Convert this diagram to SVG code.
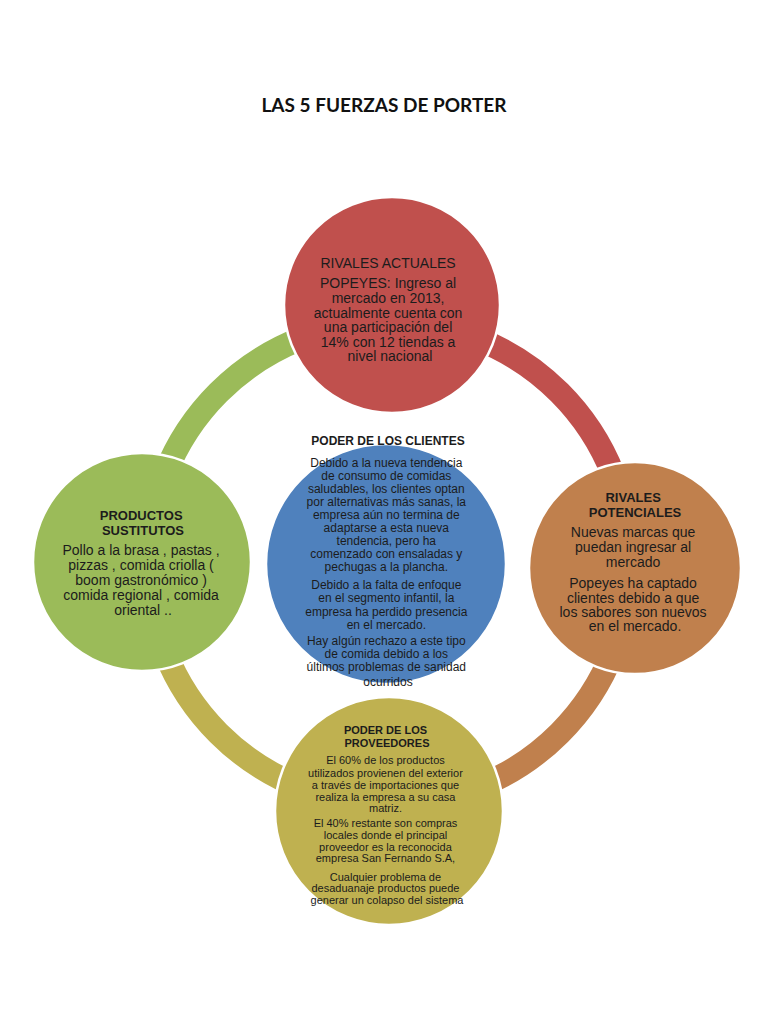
<svg xmlns="http://www.w3.org/2000/svg" width="768" height="1024" viewBox="0 0 768 1024">
<style>
.t{font-family:"Liberation Sans",Arial,sans-serif;fill:#1c1c1c;text-anchor:middle}
.title{font-family:Lato,"Liberation Sans",sans-serif;font-size:19px;font-weight:bold;fill:#111;text-anchor:middle}
.node{stroke:#fff;stroke-width:2.5}
.ring{fill:none;stroke-width:24}
</style>
<rect width="768" height="1024" fill="#fff"/>
<text class="title" x="384" y="112">LAS 5 FUERZAS DE PORTER</text>
<g id="connectors">
<path class="ring" stroke="#9BBB59" d="M148,563 A241,241 0 0 1 389,322"/>
<path class="ring" stroke="#C0504D" d="M389,322 A241,241 0 0 1 630,563"/>
<path class="ring" stroke="#C0804D" d="M630,563 A241,241 0 0 1 389,804"/>
<path class="ring" stroke="#BFB150" d="M389,804 A241,241 0 0 1 148,563"/>
</g>
<g id="clientes">
<circle class="node" cx="386" cy="564" r="120" fill="#4F81BD" stroke="none"/>
<text class="t" font-size="12" font-weight="bold" x="388" y="445">PODER DE LOS CLIENTES</text>
<text class="t" font-size="12">
<tspan x="388" y="467">Debido a la nueva tendencia</tspan>
<tspan x="388" y="480">de consumo de comidas</tspan>
<tspan x="388" y="493">saludables, los clientes optan</tspan>
<tspan x="388" y="506">por alternativas más sanas, la</tspan>
<tspan x="388" y="519">empresa aún no termina de</tspan>
<tspan x="388" y="532">adaptarse a esta nueva</tspan>
<tspan x="388" y="545">tendencia, pero ha</tspan>
<tspan x="388" y="558">comenzado con ensaladas y</tspan>
<tspan x="388" y="571">pechugas a la plancha.</tspan>
<tspan x="388" y="589">Debido a la falta de enfoque</tspan>
<tspan x="388" y="602">en el segmento infantil, la</tspan>
<tspan x="388" y="616">empresa ha perdido presencia</tspan>
<tspan x="388" y="629">en el mercado.</tspan>
<tspan x="388" y="645">Hay algún rechazo a este tipo</tspan>
<tspan x="388" y="658">de comida debido a los</tspan>
<tspan x="388" y="671">últimos problemas de sanidad</tspan>
<tspan x="388" y="686">ocurridos</tspan>
</text>
</g>
<g id="rivales-actuales">
<circle class="node" cx="392" cy="305" r="108" fill="#C0504D"/>
<text class="t" font-size="14">
<tspan x="390" y="268">RIVALES ACTUALES</tspan>
<tspan x="390" y="288">POPEYES: Ingreso al</tspan>
<tspan x="390" y="303">mercado en 2013,</tspan>
<tspan x="390" y="318">actualmente cuenta con</tspan>
<tspan x="390" y="332">una participación del</tspan>
<tspan x="390" y="347">14% con 12 tiendas a</tspan>
<tspan x="390" y="361">nivel nacional</tspan>
</text>
</g>
<g id="rivales-potenciales">
<circle class="node" cx="635" cy="568" r="106" fill="#C0804D"/>
<text class="t" font-size="13" font-weight="bold">
<tspan x="635" y="502">RIVALES</tspan>
<tspan x="635" y="517">POTENCIALES</tspan>
</text>
<text class="t" font-size="14">
<tspan x="635" y="537">Nuevas marcas que</tspan>
<tspan x="635" y="552">puedan ingresar al</tspan>
<tspan x="635" y="567">mercado</tspan>
<tspan x="635" y="588">Popeyes ha captado</tspan>
<tspan x="635" y="603">clientes debido a que</tspan>
<tspan x="635" y="617">los sabores son nuevos</tspan>
<tspan x="635" y="631">en el mercado.</tspan>
</text>
</g>
<g id="productos-sustitutos">
<circle class="node" cx="142" cy="562" r="109" fill="#9BBB59"/>
<text class="t" font-size="13" font-weight="bold">
<tspan x="143" y="520">PRODUCTOS</tspan>
<tspan x="143" y="535">SUSTITUTOS</tspan>
</text>
<text class="t" font-size="14">
<tspan x="143" y="555">Pollo a la brasa , pastas ,</tspan>
<tspan x="143" y="570">pizzas , comida criolla (</tspan>
<tspan x="143" y="585">boom gastronómico )</tspan>
<tspan x="143" y="600">comida regional , comida</tspan>
<tspan x="143" y="615">oriental ..</tspan>
</text>
</g>
<g id="proveedores">
<circle class="node" cx="389" cy="811" r="114" fill="#BFB150"/>
<text class="t" font-size="11" font-weight="bold">
<tspan x="387" y="734">PODER DE LOS</tspan>
<tspan x="387" y="747">PROVEEDORES</tspan>
</text>
<text class="t" font-size="11">
<tspan x="387" y="764">El 60% de los productos</tspan>
<tspan x="387" y="777">utilizados provienen del exterior</tspan>
<tspan x="387" y="789">a través de importaciones que</tspan>
<tspan x="387" y="801">realiza la empresa a su casa</tspan>
<tspan x="387" y="812">matriz.</tspan>
<tspan x="387" y="827">El 40% restante son compras</tspan>
<tspan x="387" y="839">locales donde el principal</tspan>
<tspan x="387" y="851">proveedor es la reconocida</tspan>
<tspan x="387" y="862">empresa San Fernando S.A,</tspan>
<tspan x="387" y="881">Cualquier problema de</tspan>
<tspan x="387" y="892">desaduanaje productos puede</tspan>
<tspan x="387" y="904">generar un colapso del sistema</tspan>
</text>
</g>
</svg>
